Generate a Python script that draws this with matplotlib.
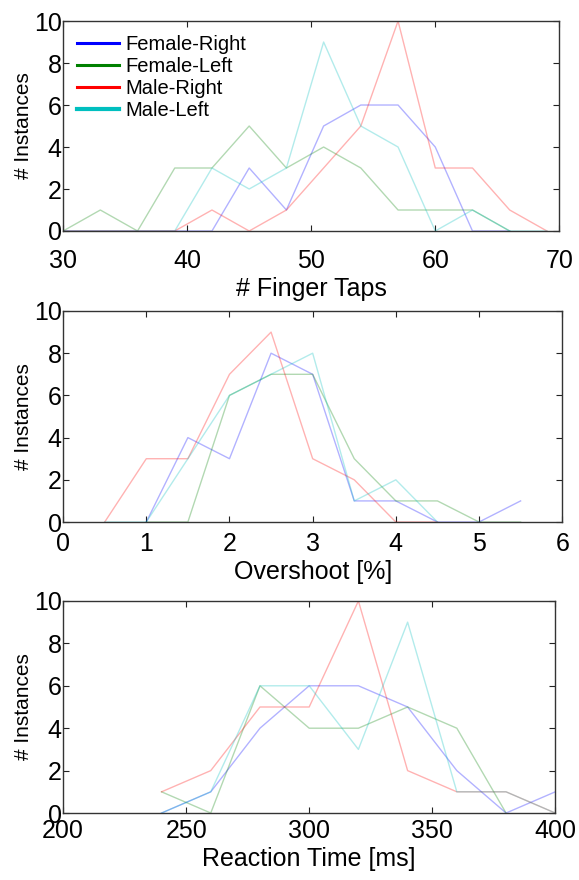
import numpy as np
import matplotlib.pyplot as plt

plt.rcParams['font.family'] = ['Liberation Sans', 'DejaVu Sans']

nan = np.nan

# Finger taps histogram
taps_bins = [30, 33, 36, 39, 42, 45, 48, 51, 54, 57, 60, 63, 66, 69]
taps_female_right = [0, 0, 0, 0, 0, 3, 1, 5, 6, 6, 4, 0, 0, nan]
taps_female_left = [0, 1, 0, 3, 3, 5, 3, 4, 3, 1, 1, 1, 0, nan]
taps_male_right = [0, 0, 0, 0, 1, 0, 1, 3, 5, 10, 3, 3, 1, 0]
taps_male_left = [0, 0, 0, 0, 3, 2, 3, 9, 5, 4, 0, 1, 0, 0]

# Overshoot histogram
over_bins = [0.5, 1.0, 1.5, 2.0, 2.5, 3.0, 3.5, 4.0, 4.5, 5.0, 5.5]
over_female_right = [nan, 0, 4, 3, 8, 7, 1, 1, 0, 0, 1]
over_female_left = [nan, 0, 0, 6, 7, 7, 3, 1, 1, 0, 0]
over_male_right = [0, 3, 3, 7, 9, 3, 2, 0, 0, nan, nan]
over_male_left = [0, 0, 3, 6, 7, 8, 1, 2, 0, nan, nan]

# Reaction time histogram
rt_bins = [240, 260, 280, 300, 320, 340, 360, 380, 400]
rt_female_right = [0, 1, 4, 6, 6, 5, 2, 0, 1]
rt_female_left = [1, 0, 6, 4, 4, 5, 4, 0, nan]
rt_male_right = [1, 2, 5, 5, 10, 2, 1, 1, 0]
rt_male_left = [0, 1, 6, 6, 3, 9, 1, 1, 0]

labels = ['Female-Right', 'Female-Left', 'Male-Right', 'Male-Left']
colors = ['#0000ff', '#008000', '#ff0000', '#00bfbf']

panels = [
    (taps_bins, [taps_female_right, taps_female_left, taps_male_right, taps_male_left],
     '# Finger Taps', (30, 70), [30, 40, 50, 60, 70]),
    (over_bins, [over_female_right, over_female_left, over_male_right, over_male_left],
     'Overshoot [%]', (0, 6), [0, 1, 2, 3, 4, 5, 6]),
    (rt_bins, [rt_female_right, rt_female_left, rt_male_right, rt_male_left],
     'Reaction Time [ms]', (200, 400), [200, 250, 300, 350, 400]),
]

fig = plt.figure(figsize=(5.79, 8.8), dpi=100)
positions = [
    [0.109, 0.7375, 0.857, 0.2386],
    [0.109, 0.4068, 0.862, 0.2398],
    [0.109, 0.0761, 0.850, 0.2410],
]
xpads = [13, 7, 4]

for pos, xpad, (bins, series, xlabel, xlim, xticks) in zip(positions, xpads, panels):
    ax = fig.add_axes(pos)
    for vals, col in zip(series, colors):
        ax.plot(bins, vals, color=col, alpha=0.3, lw=1.0)
    ax.set_xlim(*xlim)
    ax.set_ylim(0, 10)
    ax.set_xticks(xticks)
    ax.set_yticks([0, 2, 4, 6, 8, 10])
    ax.tick_params(direction='in', top=True, right=True, length=4,
                   labelsize=18, colors='#222222', labelcolor='black')
    ax.tick_params(axis='x', pad=xpad)
    ax.tick_params(axis='y', pad=1)
    for s in ax.spines.values():
        s.set_color('#333333')
        s.set_linewidth(1.0)
    ax.set_xlabel(xlabel, fontsize=18, labelpad=3)
    ax.set_ylabel('# Instances', fontsize=15, labelpad=0.5)

    if xlabel == '# Finger Taps':
        handles = []
        for lab, col in zip(labels, colors):
            h, = ax.plot([], [], color=col, lw=2.2 if lab != 'Male-Left' else 3, label=lab)
            handles.append(h)
        ax.legend(handles=handles, loc='upper left', frameon=False, fontsize=14.5,
                  handlelength=2.1, handletextpad=0.3, labelspacing=0.15,
                  borderaxespad=0.2, borderpad=0.5)

fig.savefig('out.png', dpi=100)
